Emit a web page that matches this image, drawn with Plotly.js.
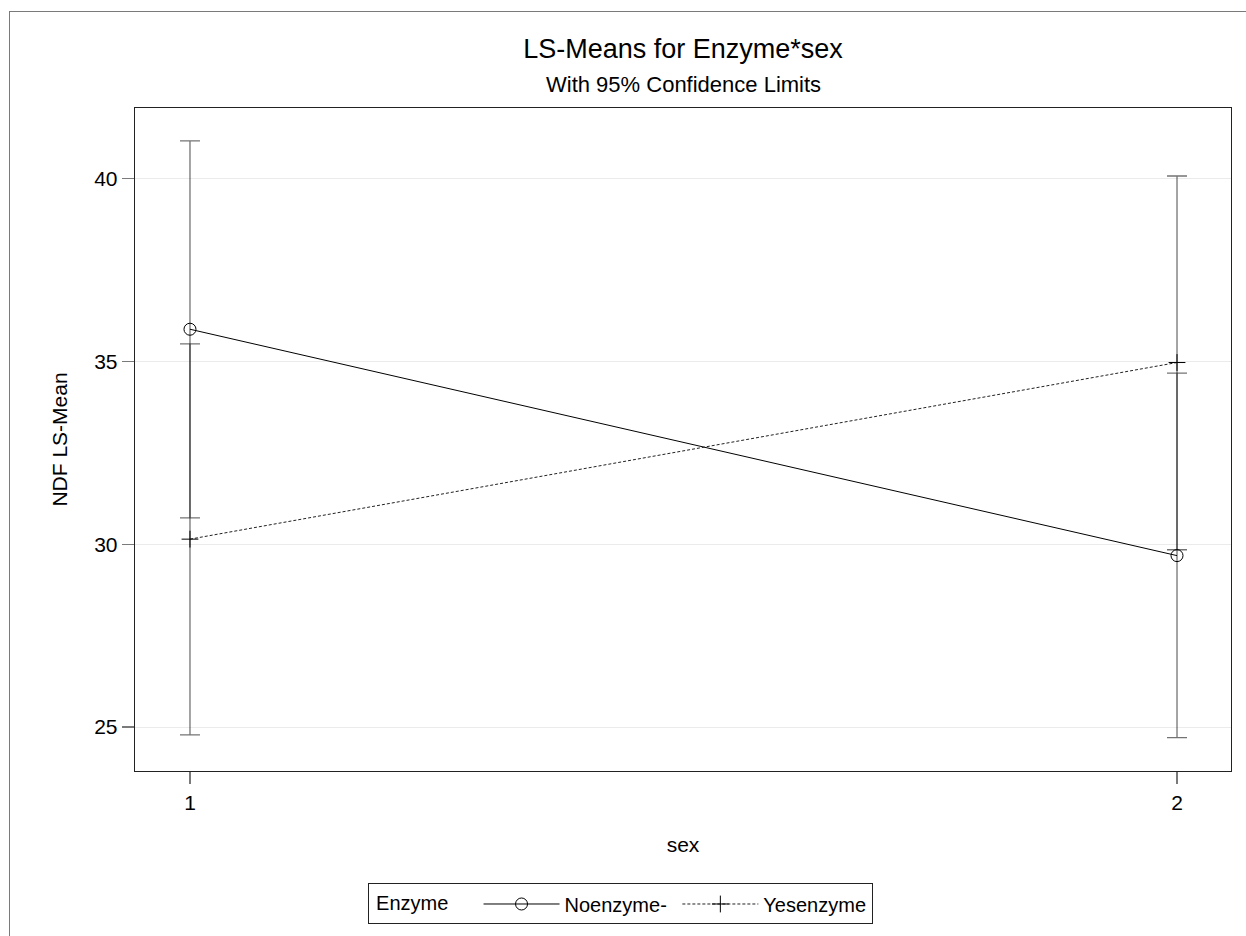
<!DOCTYPE html>
<html>
<head>
<meta charset="utf-8">
<script src="https://cdn.plot.ly/plotly-3.0.1.min.js"></script>
<style>
  html, body { margin: 0; padding: 0; background: #ffffff; }
  #wrap { position: relative; width: 1246px; height: 936px; overflow: hidden; }
  #chart { position: absolute; left: 0; top: 0; width: 1246px; height: 936px; }
  #frame { position: absolute; left: 9px; top: 11px; width: 1300px; height: 1000px;
           border-left: 1px solid #7a7a7a; border-top: 1px solid #7a7a7a; pointer-events: none; }
</style>
</head>
<body>
<div id="wrap">
  <div id="chart"></div>
  <div id="frame"></div>
</div>
<script>
// ---- data ----
const sexLevels = [1, 2];
const seriesNames = ["Noenzyme-", "Yesenzyme"];
const noMean  = [35.88, 29.69];
const noLower = [30.72, 24.71];
const noUpper = [41.03, 34.68];
const yesMean  = [30.14, 34.97];
const yesLower = [24.79, 29.85];
const yesUpper = [35.48, 40.07];
const yTicks = [25, 30, 35, 40];
const xTicks = [1, 2];

const FONT = "Liberation Sans, Arial, Helvetica, sans-serif";
const errColor = "rgba(0,0,0,0.55)";

function errBar(mean, lower, upper) {
  return {
    type: "data",
    symmetric: false,
    array: upper.map((u, i) => u - mean[i]),
    arrayminus: mean.map((m, i) => m - lower[i]),
    color: errColor,
    thickness: 1.3,
    width: 10
  };
}

const traces = [
  {
    x: sexLevels, y: noMean, name: seriesNames[0] + "&nbsp;",
    type: "scatter", mode: "lines+markers",
    line: { color: "#000000", width: 1 },
    marker: { symbol: "circle-open", size: 12, color: "#000000", line: { width: 1, color: "#000000" } },
    error_y: errBar(noMean, noLower, noUpper)
  },
  {
    x: sexLevels, y: yesMean, name: seriesNames[1],
    type: "scatter", mode: "lines+markers",
    line: { color: "#222222", width: 1, dash: "3px,2px" },
    marker: { symbol: "cross-thin-open", size: 12, color: "#000000", line: { width: 1, color: "#000000" } },
    error_y: errBar(yesMean, yesLower, yesUpper)
  }
];

const layout = {
  width: 1246, height: 936,
  paper_bgcolor: "rgba(0,0,0,0)",
  plot_bgcolor: "#ffffff",
  margin: { l: 135, r: 15, t: 108, b: 162 },
  font: { family: FONT, color: "#000000", size: 20 },
  title: {
    text: "LS-Means for Enzyme*sex",
    font: { family: FONT, size: 27, color: "#000000" },
    xref: "paper", x: 0.5, xanchor: "center",
    yref: "container", y: 1 - 49 / 936, yanchor: "middle"
  },
  annotations: [
    {
      text: "With 95% Confidence Limits",
      xref: "paper", yref: "paper", x: 0.5, y: (774 - 84) / 666,
      xanchor: "center", yanchor: "middle", showarrow: false,
      font: { family: FONT, size: 22, color: "#000000" }
    }
  ],
  xaxis: {
    range: [0.9443, 2.0547],
    tickvals: xTicks, ticktext: xTicks.map(String),
    ticks: "outside", ticklen: 12, tickcolor: "#7a7a7a", tickwidth: 1.3,
    showgrid: false, zeroline: false,
    showline: true, mirror: true, linecolor: "#222222", linewidth: 1.3,
    tickfont: { family: FONT, size: 21, color: "#000000" },
    title: { text: "sex", font: { family: FONT, size: 21, color: "#000000" }, standoff: 24 }
  },
  yaxis: {
    range: [23.80, 41.93],
    tickvals: yTicks, ticktext: yTicks.map(String),
    ticks: "outside", ticklen: 12, tickcolor: "#7a7a7a", tickwidth: 1.3,
    showgrid: true, gridcolor: "#ebebeb", gridwidth: 1, zeroline: false,
    showline: true, mirror: true, linecolor: "#222222", linewidth: 1.3,
    tickfont: { family: FONT, size: 21, color: "#000000" },
    title: { text: "NDF LS-Mean", font: { family: FONT, size: 21, color: "#000000" }, standoff: 20 }
  },
  showlegend: true,
  legend: {
    orientation: "h",
    xref: "paper", yref: "paper",
    x: (620 - 135) / 1096, xanchor: "center",
    y: (774 - 887) / 666, yanchor: "top",
    bgcolor: "#ffffff", bordercolor: "#222222", borderwidth: 1,
    font: { family: FONT, size: 20, color: "#000000" },
    title: { text: "&nbsp;Enzyme&nbsp;&nbsp;&nbsp;&nbsp;", side: "left", font: { family: FONT, size: 20, color: "#000000" } },
    itemwidth: 76,
    traceorder: "normal"
  }
};

Plotly.newPlot("chart", traces, layout, { displayModeBar: false, staticPlot: true });
</script>
</body>
</html>
